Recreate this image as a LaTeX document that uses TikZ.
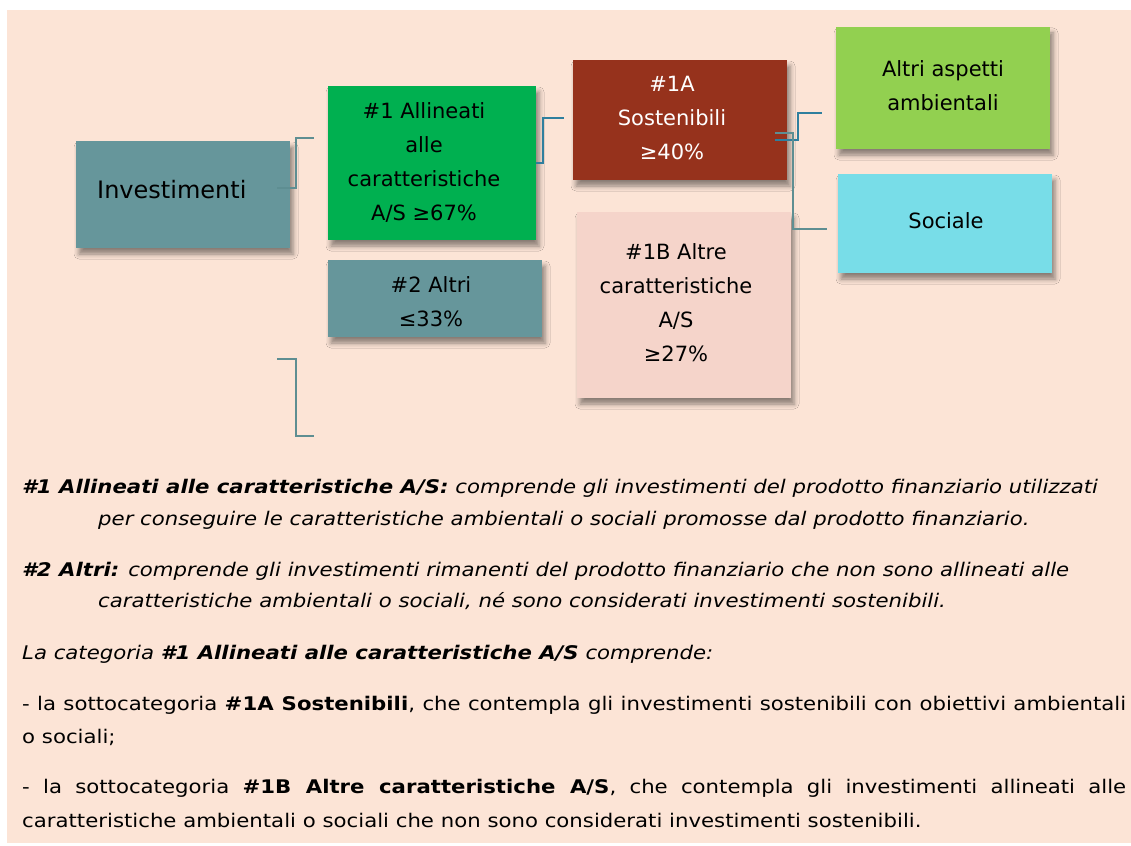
\documentclass[tikz,border=0pt]{standalone}
\usepackage{fontspec}
\setmainfont{DejaVu Sans}
\newfontfamily\bodyfont[FakeStretch=1.13]{DejaVu Sans}
\usetikzlibrary{shadows.blur}
\definecolor{bgpeach}{HTML}{FCE4D6}
\definecolor{tealgray}{HTML}{66969B}
\definecolor{sgreen}{HTML}{00B050}
\definecolor{rust}{HTML}{96321C}
\definecolor{lpink}{HTML}{F5D4CA}
\definecolor{lgreen}{HTML}{92D050}
\definecolor{cyanb}{HTML}{78DDE8}
\definecolor{lineblue}{HTML}{2F7F9E}
\definecolor{linegray}{HTML}{5E8E92}
\begin{document}
\begin{tikzpicture}[x=1pt,y=-1pt,
  box/.style={draw=none, inner sep=0pt,
    blur shadow={shadow xshift=3pt, shadow yshift=-6pt, shadow blur radius=5pt, shadow opacity=45}},
  boxtxt/.style={align=center, inner sep=0pt, font=\fontsize{21}{34}\selectfont},
  bodyline/.style={anchor=base west, inner sep=0pt, font=\bodyfont\fontsize{18.8}{22}\selectfont},
  connG/.style={draw=linegray, line width=1.5pt},
  connB/.style={draw=lineblue, line width=1.5pt}]
\useasboundingbox (0,0) rectangle (1131,845);
\fill[white] (0,0) rectangle (1131,845);
\fill[bgpeach] (7,10) rectangle (1131,843);

% boxes
\node[box, fill=tealgray, minimum width=214pt, minimum height=107pt] (inv) at (183,194.5) {};
\node[box, fill=sgreen, minimum width=208pt, minimum height=154pt] (all1) at (432,163) {};
\node[box, fill=tealgray, minimum width=214pt, minimum height=77pt] (alt2) at (435,298.5) {};
\node[box, fill=rust, minimum width=214pt, minimum height=120pt] (s1a) at (680,120) {};
\node[box, fill=lpink, minimum width=214pt, minimum height=186pt] (s1b) at (684,305) {};
\node[box, fill=lgreen, minimum width=214pt, minimum height=122pt] (amb) at (943,88) {};
\node[box, fill=cyanb, minimum width=214pt, minimum height=99pt] (soc) at (945,223.5) {};

% box texts
\node[anchor=base west, inner sep=0pt, font=\fontsize{24}{28}\selectfont] (invt) at (97,198) {Investimenti};
\node[boxtxt] (all1t) at (424,162) {\#1 Allineati\\alle\\caratteristiche\\A/S ≥67\%};
\node[boxtxt] (alt2t) at (431,302) {\#2 Altri\\≤33\%};
\node[boxtxt, text=white] (s1at) at (672,118) {\#1A\\Sostenibili\\≥40\%};
\node[boxtxt] (s1bt) at (676,303) {\#1B Altre\\caratteristiche\\A/S\\≥27\%};
\node[boxtxt] (ambt) at (943,86) {Altri aspetti\\ambientali};
\node[boxtxt] (soct) at (946,221) {Sociale};

% connectors
\coordinate (k1a) at (277,188);
\coordinate (k1b) at (314,138);
\draw[connG] (k1a) -- ++(19,0) |- (k1b);
\coordinate (k2b) at (564,118);
\draw[connB] (all1.east) -- ++(7,0) |- (k2b);
\coordinate (k3a) at (775,140);
\coordinate (k3b) at (822,113);
\draw[connB] (k3a) -- ++(23,0) |- (k3b);
\coordinate (k4a) at (775,133);
\coordinate (k4b) at (827,229);
\draw[connG] (k4a) -- ++(18,0) |- (k4b);
\coordinate (k5a) at (277,359);
\coordinate (k5b) at (314,436);
\draw[connG] (k5a) -- ++(19,0) |- (k5b);

% body text
\node[bodyline] (l1) at (22,493) {{\bfseries\itshape \#1 Allineati alle caratteristiche A/S:} {\itshape comprende gli investimenti del prodotto finanziario utilizzati}};
\node[bodyline] (l2) at (98,525) {\itshape per conseguire le caratteristiche ambientali o sociali promosse dal prodotto finanziario.};
\node[bodyline] (l3) at (22,576) {{\bfseries\itshape \#2 Altri:} {\itshape comprende gli investimenti rimanenti del prodotto finanziario che non sono allineati alle}};
\node[bodyline] (l4) at (98,607) {\itshape caratteristiche ambientali o sociali, né sono considerati investimenti sostenibili.};
\node[bodyline] (l5) at (22,659) {\itshape La categoria {\bfseries \#1 Allineati alle caratteristiche A/S} comprende:};
\node[bodyline] (l6) at (22,710) {\makebox[1104pt][s]{- la sottocategoria \textbf{\#1A Sostenibili}, che contempla gli investimenti sostenibili con obiettivi ambientali}};
\node[bodyline] (l7) at (22,743) {o sociali;};
\node[bodyline] (l8) at (22,793) {\makebox[1104pt][s]{- la sottocategoria \textbf{\#1B Altre caratteristiche A/S}, che contempla gli investimenti allineati alle}};
\node[bodyline] (l9) at (22,827) {caratteristiche ambientali o sociali che non sono considerati investimenti sostenibili.};
\end{tikzpicture}
\end{document}
